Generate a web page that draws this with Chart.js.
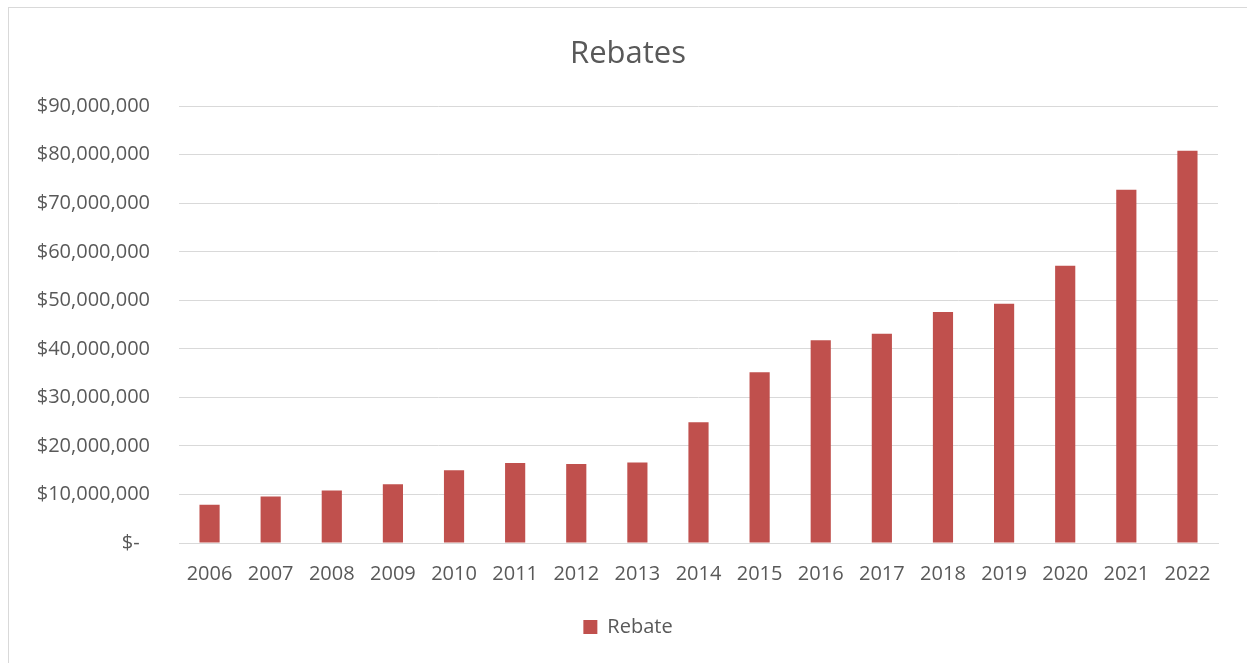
<!DOCTYPE html>
<html>
<head>
<meta charset="utf-8">
<script src="https://cdn.jsdelivr.net/npm/chart.js@4.4.1/dist/chart.umd.min.js"></script>
<style>
  html, body { margin: 0; padding: 0; background: #fff; }
  #wrap {
    position: absolute; left: 8px; top: 7px;
    width: 1239px; height: 656px;
    border-left: 1px solid #d9d9d9; border-top: 1px solid #d9d9d9;
  }
  #c { position: absolute; left: -9px; top: -8px; }
</style>
</head>
<body>
<div id="wrap"><canvas id="c" width="1247" height="663"></canvas></div>
<script>
  const years = ['2006', '2007', '2008', '2009', '2010', '2011', '2012', '2013', '2014',
    '2015', '2016', '2017', '2018', '2019', '2020', '2021', '2022'];
  const rebate = [7900000, 9600000, 10800000, 12100000, 15000000, 16500000, 16300000, 16600000,
    24900000, 35200000, 41800000, 43100000, 47600000, 49300000, 57100000, 72800000, 80800000];
  const yTicks = [0, 10000000, 20000000, 30000000, 40000000, 50000000, 60000000, 70000000, 80000000, 90000000];

  const grey = '#595959';
  const font = 'Open Sans';

  function money(v) {
    if (v === 0) return '$-  ';
    return '$' + v.toLocaleString('en-US');
  }

  new Chart(document.getElementById('c'), {
    type: 'bar',
    data: {
      labels: years,
      datasets: [{
        label: 'Rebate',
        data: rebate,
        backgroundColor: '#c0504d',
        borderWidth: 0,
        barPercentage: 0.33,
        categoryPercentage: 1.0,
      }],
    },
    options: {
      responsive: false,
      animation: false,
      layout: { padding: { left: 38, right: 29, top: 0, bottom: 16 } },
      plugins: {
        title: {
          display: true,
          text: 'Rebates',
          color: grey,
          font: { family: font, size: 31, weight: 'normal' },
          padding: { top: 36, bottom: 33 },
        },
        legend: {
          position: 'bottom',
          labels: {
            color: grey,
            font: { family: font, size: 20 },
            boxWidth: 14,
            boxHeight: 14,
            padding: 14,
          },
        },
        tooltip: { enabled: false },
      },
      scales: {
        x: {
          grid: { display: false, drawTicks: false },
          border: { display: true, color: '#d9d9d9' },
          afterFit: (s) => { s.height = 60; },
          ticks: { color: grey, font: { family: font, size: 20 }, padding: 19, maxRotation: 0 },
        },
        y: {
          min: 0,
          max: 90000000,
          afterBuildTicks: (s) => { s.ticks = yTicks.map(v => ({ value: v })); },
          afterFit: (s) => { s.width = 141; },
          grid: { color: '#d9d9d9', drawTicks: false },
          border: { display: false },
          ticks: {
            color: grey,
            font: { family: font, size: 20 },
            padding: 29,
            callback: (v) => money(v),
          },
        },
      },
    },
  });
</script>
</body>
</html>
